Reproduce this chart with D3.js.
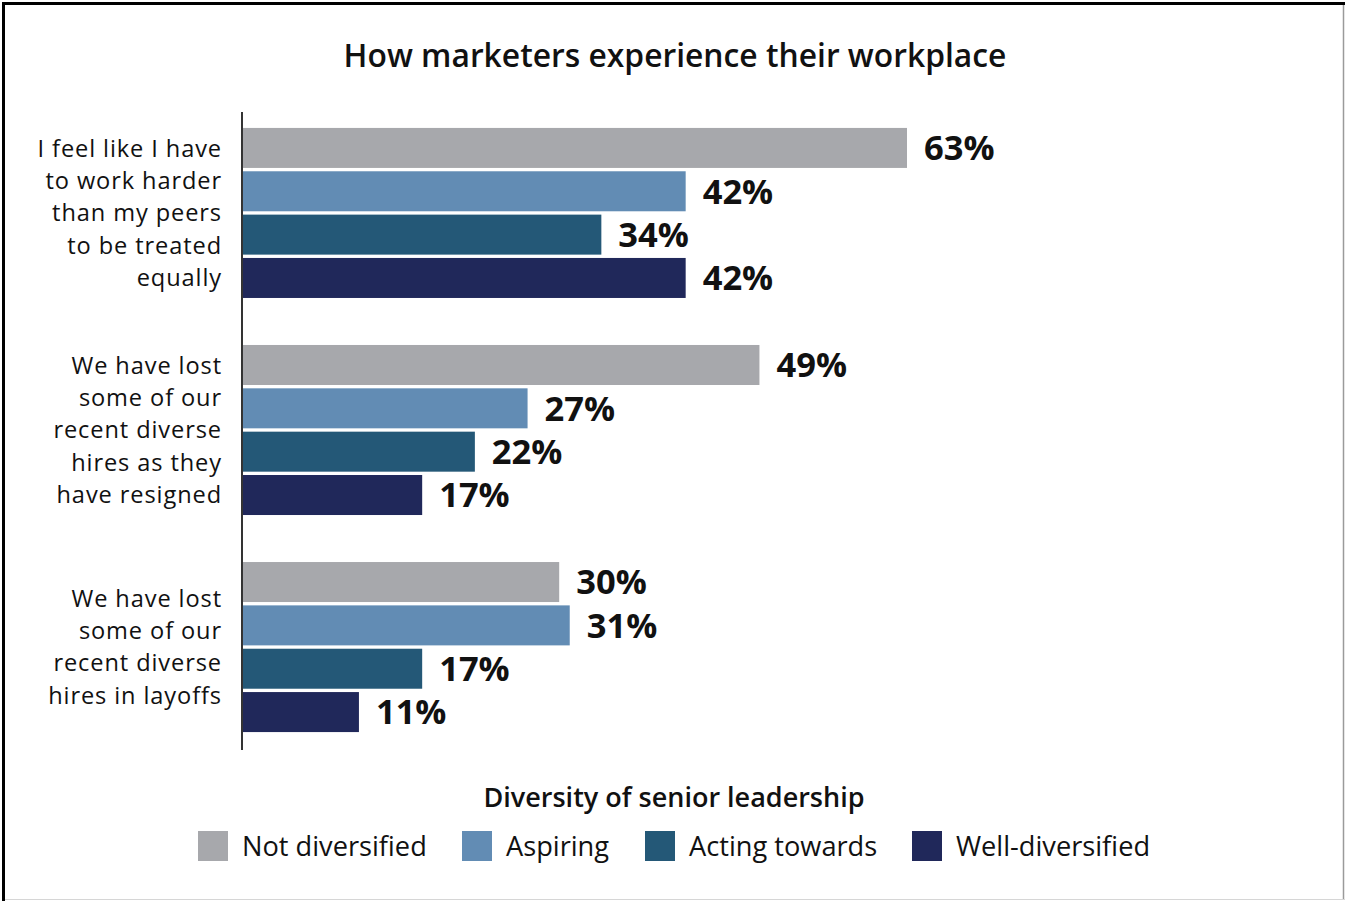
<!DOCTYPE html>
<html>
<head>
<meta charset="utf-8">
<script src="https://cdn.jsdelivr.net/npm/d3@7"></script>
<style>
  html, body { margin: 0; padding: 0; background: #fff; }
  svg { display: block; font-family: "Open Sans", "Noto Sans", sans-serif; }
</style>
</head>
<body>
<svg id="chart" width="1345" height="901"></svg>
<script>
// Survey statements (one group of bars each)
const categories = [
  ["I feel like I have", "to work harder", "than my peers", "to be treated", "equally"],
  ["We have lost", "some of our", "recent diverse", "hires as they", "have resigned"],
  ["We have lost", "some of our", "recent diverse", "hires in layoffs"]
];
const categoryKeys = ["harder", "resigned", "layoffs"];

// Diversity of senior leadership levels
const series = ["Not diversified", "Aspiring", "Acting towards", "Well-diversified"];
const seriesColors = ["#a7a8ac", "#628cb4", "#245877", "#20285a"];

// Percent of marketers per statement, one array per leadership level
const notDiversified = [63, 49, 30];
const aspiring = [42, 27, 31];
const actingTowards = [34, 22, 17];
const wellDiversified = [42, 17, 11];
const seriesValues = [notDiversified, aspiring, actingTowards, wellDiversified];

const svg = d3.select("#chart");
const W = 1345, H = 901;

// Frame
svg.append("rect").attr("x", 0).attr("y", 0).attr("width", W).attr("height", H).attr("fill", "#fff");
svg.append("line").attr("x1", 1343.5).attr("x2", 1343.5).attr("y1", 2).attr("y2", 900).attr("stroke", "#9a9a9a").attr("stroke-width", 1.5);
svg.append("line").attr("x1", 2).attr("x2", 1345).attr("y1", 899.5).attr("y2", 899.5).attr("stroke", "#d6d6d6").attr("stroke-width", 1);
svg.append("line").attr("x1", 3.5).attr("x2", 3.5).attr("y1", 2).attr("y2", 901).attr("stroke", "#000").attr("stroke-width", 3);
svg.append("line").attr("x1", 2).attr("x2", 1345).attr("y1", 3.5).attr("y2", 3.5).attr("stroke", "#000").attr("stroke-width", 3);

// Title
svg.append("text")
  .attr("x", 675).attr("y", 67)
  .attr("text-anchor", "middle")
  .attr("font-size", 31.8).attr("font-weight", 600).attr("fill", "#111")
  .text("How marketers experience their workplace");

// Scales
const x = d3.scaleLinear().domain([0, 63]).range([243, 907]);
const y0 = d3.scaleBand().domain(categoryKeys).range([111, 749]).paddingInner(0.2166).paddingOuter(0.078);
const y1 = d3.scaleBand().domain(series).range([0, y0.bandwidth()]).paddingInner(0.077).paddingOuter(0);
const color = d3.scaleOrdinal().domain(series).range(seriesColors);

// Bars and value labels
const groups = svg.append("g").selectAll("g")
  .data(categoryKeys)
  .join("g")
  .attr("transform", d => `translate(0,${y0(d)})`);

groups.each(function(key, gi) {
  const g = d3.select(this);
  const rows = series.map((s, si) => ({ s, v: seriesValues[si][gi] }));
  g.selectAll("rect")
    .data(rows)
    .join("rect")
    .attr("x", x(0))
    .attr("y", d => y1(d.s))
    .attr("width", d => x(d.v) - x(0))
    .attr("height", y1.bandwidth())
    .attr("fill", d => color(d.s));
  g.selectAll("text.val")
    .data(rows)
    .join("text")
    .attr("class", "val")
    .attr("x", d => x(d.v) + 17)
    .attr("y", d => y1(d.s) + y1.bandwidth() / 2)
    .attr("dy", "0.36em")
    .attr("font-size", 34.5).attr("font-weight", 700).attr("fill", "#111")
    .text(d => d.v + "%");
});

// Category labels, one text per line, centered on each group
const lineH = 32.3;
categories.forEach((lines, gi) => {
  const cy = y0(categoryKeys[gi]) + y0.bandwidth() / 2;
  lines.forEach((ln, li) => {
    svg.append("text")
      .attr("text-anchor", "end")
      .attr("font-size", 23.6)
      .attr("letter-spacing", 0.9)
      .attr("fill", "#111")
      .attr("x", 222)
      .attr("y", cy + (li - (lines.length - 1) / 2) * lineH)
      .attr("dy", "0.35em")
      .text(ln);
  });
});

// Vertical axis line
svg.append("line")
  .attr("x1", 242).attr("x2", 242)
  .attr("y1", 112).attr("y2", 750)
  .attr("stroke", "#000").attr("stroke-width", 1.6);

// Legend
svg.append("text")
  .attr("x", 674).attr("y", 807)
  .attr("text-anchor", "middle")
  .attr("font-size", 27).attr("font-weight", 600).attr("fill", "#111")
  .text("Diversity of senior leadership");

const legendX = [198, 462, 645, 912];
const legend = svg.append("g").selectAll("g")
  .data(series)
  .join("g")
  .attr("transform", (d, i) => `translate(${legendX[i]},831)`);
legend.append("rect")
  .attr("width", 30).attr("height", 30)
  .attr("fill", d => color(d));
legend.append("text")
  .attr("x", 44).attr("y", 15).attr("dy", "0.36em")
  .attr("font-size", 27.2).attr("fill", "#111")
  .text(d => d);
</script>
</body>
</html>
